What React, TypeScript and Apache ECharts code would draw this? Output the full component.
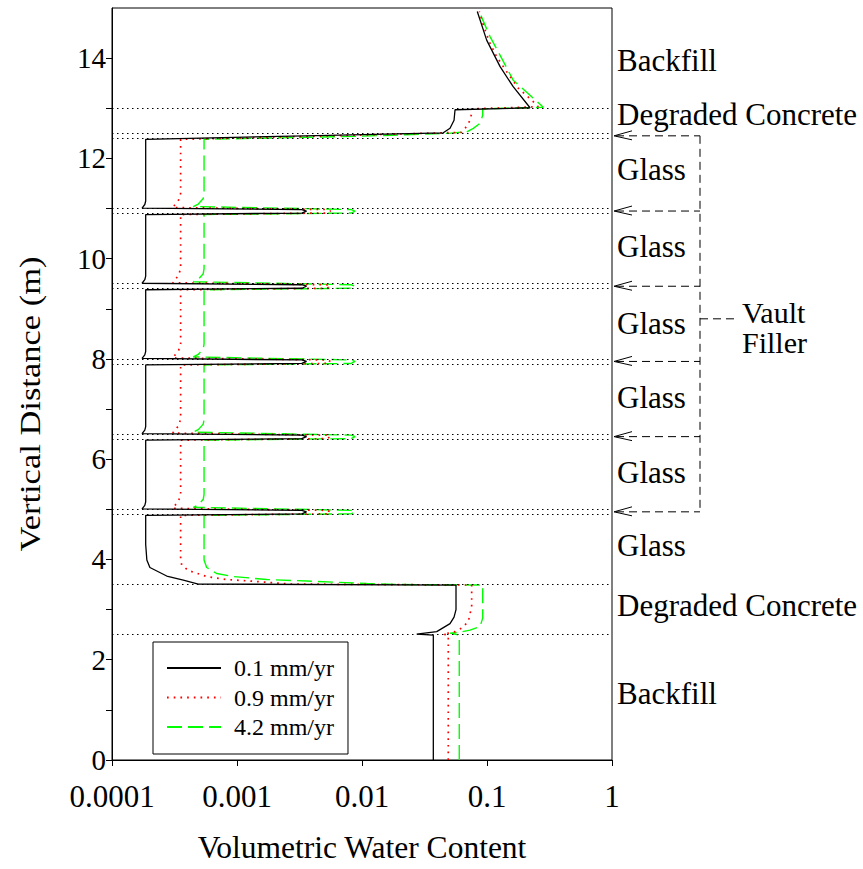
import React, { useEffect, useRef } from "react";
import * as echarts from "echarts";

const FONT = '"Liberation Serif", "Times New Roman", serif';

// x tick labels (log axis, decades 1e-4 .. 1)
const xTickLabels = ["0.0001", "0.001", "0.01", "0.1", "1"];
const yTickValues = [0, 1, 2, 3, 4, 5, 6, 7, 8, 9, 10, 11, 12, 13, 14];
const yLabelValues = [0, 2, 4, 6, 8, 10, 12, 14];

// layer boundaries (m) drawn as dotted lines
const layerBoundaries = [2.5, 3.5, 4.9, 5.0, 6.4, 6.5, 7.9, 8.0, 9.4, 9.5, 10.9, 11.0, 12.4, 12.5, 13.0];
const layerNames = ["Backfill", "Degraded Concrete", "Glass", "Glass", "Glass", "Glass", "Glass", "Glass", "Degraded Concrete", "Backfill"];
const layerLabelDepths = [1.32, 3.08, 4.27, 5.74, 7.24, 8.7, 10.24, 11.77, 12.88, 13.95];
const vaultFillerDepths = [12.45, 10.95, 9.45, 7.95, 6.45, 4.95];
const vaultFillerLabelDepth = 8.8;

const seriesNames = ["0.1 mm/yr", "0.9 mm/yr", "4.2 mm/yr"];

// [water content, vertical distance]
const flux0p1 = [
  [0.0372, 0], [0.0372, 2.49], [0.0274, 2.51], [0.0396, 2.56], [0.0506, 2.72], [0.0545, 2.85], [0.0565, 3.0], [0.0565, 3.49],
  [0.00049, 3.51], [0.000372, 3.59], [0.000274, 3.67], [0.000201, 3.84], [0.00019, 3.99], [0.000186, 4.3], [0.000186, 4.88],
  [0.0033, 4.91], [0.0036, 4.95], [0.0033, 4.98], [0.000174, 5.01], [0.000183, 5.08], [0.000186, 5.15], [0.000186, 6.38],
  [0.0033, 6.41], [0.0036, 6.45], [0.0033, 6.48], [0.000174, 6.51], [0.000183, 6.58], [0.000186, 6.65], [0.000186, 7.88],
  [0.0033, 7.91], [0.0036, 7.95], [0.0033, 7.98], [0.000174, 8.01], [0.000183, 8.08], [0.000186, 8.15], [0.000186, 9.38],
  [0.0033, 9.41], [0.0036, 9.45], [0.0033, 9.48], [0.000174, 9.51], [0.000183, 9.58], [0.000186, 9.65], [0.000186, 10.88],
  [0.0033, 10.91], [0.0036, 10.95], [0.0033, 10.98], [0.000174, 11.01], [0.000183, 11.08], [0.000186, 11.15], [0.000186, 12.38],
  [0.0035, 12.45], [0.0447, 12.51], [0.0506, 12.6], [0.0545, 12.76], [0.0555, 12.97], [0.221, 13.01],
  [0.162, 13.43], [0.1273, 13.83], [0.0994, 14.36], [0.0836, 14.93],
];

const flux0p9 = [
  [0.049, 0], [0.049, 2.49], [0.0447, 2.51], [0.0555, 2.56], [0.0627, 2.63], [0.0709, 2.76], [0.0754, 3.06], [0.0754, 3.49],
  [0.00265, 3.51], [0.00127, 3.57], [0.000827, 3.6], [0.000572, 3.66], [0.000408, 3.78], [0.000361, 3.89], [0.000354, 4.0], [0.000354, 4.88],
  [0.0052, 4.91], [0.0056, 4.95], [0.0052, 4.98], [0.000306, 5.02], [0.000341, 5.17], [0.000354, 5.3], [0.000354, 6.38],
  [0.0052, 6.41], [0.0056, 6.45], [0.0052, 6.48], [0.000306, 6.52], [0.000341, 6.67], [0.000354, 6.8], [0.000354, 7.88],
  [0.0052, 7.91], [0.0056, 7.95], [0.0052, 7.98], [0.000306, 8.02], [0.000341, 8.17], [0.000354, 8.3], [0.000354, 9.38],
  [0.0052, 9.41], [0.0056, 9.45], [0.0052, 9.48], [0.000306, 9.52], [0.000341, 9.67], [0.000354, 9.8], [0.000354, 10.88],
  [0.0052, 10.91], [0.0056, 10.95], [0.0052, 10.98], [0.000306, 11.02], [0.000341, 11.17], [0.000354, 11.3], [0.000354, 12.38],
  [0.0055, 12.45], [0.0627, 12.52], [0.0688, 12.64], [0.0731, 12.76], [0.0754, 12.9], [0.0754, 12.99], [0.257, 13.03],
  [0.228, 13.16], [0.178, 13.4], [0.1437, 13.73], [0.1195, 14.03], [0.1043, 14.33], [0.0934, 14.66], [0.0867, 14.93],
];

const flux4p2 = [
  [0.06, 0], [0.06, 2.49], [0.0506, 2.53], [0.0608, 2.55], [0.0731, 2.59], [0.0879, 2.66], [0.0924, 2.83], [0.0924, 3.49],
  [0.0201, 3.5], [0.0109, 3.52], [0.00361, 3.57], [0.00173, 3.6], [0.000934, 3.66], [0.000688, 3.72], [0.000572, 3.84], [0.000545, 3.99], [0.000545, 4.88],
  [0.0082, 4.91], [0.0088, 4.95], [0.0082, 4.98], [0.000447, 5.04], [0.00049, 5.09], [0.000537, 5.2], [0.000545, 5.3], [0.000545, 6.38],
  [0.0082, 6.41], [0.0088, 6.45], [0.0082, 6.48], [0.000447, 6.54], [0.00049, 6.59], [0.000537, 6.7], [0.000545, 6.8], [0.000545, 7.88],
  [0.0082, 7.91], [0.0088, 7.95], [0.0082, 7.98], [0.000447, 8.04], [0.00049, 8.09], [0.000537, 8.2], [0.000545, 8.3], [0.000545, 9.38],
  [0.0082, 9.41], [0.0088, 9.45], [0.0082, 9.48], [0.000447, 9.54], [0.00049, 9.59], [0.000537, 9.7], [0.000545, 9.8], [0.000545, 10.88],
  [0.0082, 10.91], [0.0088, 10.95], [0.0082, 10.98], [0.000447, 11.04], [0.00049, 11.09], [0.000537, 11.2], [0.000545, 11.3], [0.000545, 12.38],
  [0.0088, 12.44], [0.049, 12.5], [0.0688, 12.53], [0.0777, 12.6], [0.0879, 12.7], [0.0924, 12.86], [0.0924, 12.99], [0.282, 13.02],
  [0.162, 13.56], [0.127, 14.06], [0.1057, 14.43], [0.0865, 14.93],
];

export default function App() {
  const ref = useRef<HTMLDivElement>(null);

  useEffect(() => {
    if (!ref.current) return;
    const chart = echarts.init(ref.current, null, { renderer: "svg" });

    const option: any = {
      animation: false,
      textStyle: { fontFamily: FONT, color: "#000" },
      grid: {
        left: 112, right: 251, top: 8, bottom: 109,
        show: true, borderColor: "#000", borderWidth: 1, backgroundColor: "transparent",
      },
      legend: {
        orient: "vertical",
        left: 153,
        top: 642,
        padding: [14, 14, 15, 13],
        itemGap: 5.5,
        itemWidth: 54,
        itemHeight: 14,
        borderColor: "#000",
        borderWidth: 1,
        borderRadius: 0,
        selectedMode: false,
        itemStyle: { color: "transparent", borderColor: "transparent", borderWidth: 0, opacity: 0 },
        textStyle: { fontFamily: FONT, fontSize: 24, color: "#000", lineHeight: 24, padding: [0, 0, 0, 8] },
        data: seriesNames,
      },
      xAxis: {
        type: "log",
        logBase: 10,
        min: 0.0001,
        max: 1,
        axisLine: { lineStyle: { color: "#000", width: 1 } },
        axisTick: { length: 6, lineStyle: { color: "#000", width: 1 } },
        minorTick: { show: false },
        splitLine: { show: false },
        axisLabel: {
          fontFamily: FONT,
          fontSize: 31,
          color: "#000",
          margin: 21,
          formatter: (v: number) => xTickLabels[Math.round(Math.log10(v)) + 4] ?? "",
        },
        name: "Volumetric Water Content",
        nameLocation: "middle",
        nameGap: 71,
        nameTextStyle: { fontFamily: FONT, fontSize: 31.5, color: "#000" },
      },
      yAxis: {
        type: "value",
        min: 0,
        max: 15,
        interval: 1,
        axisLine: { show: true, lineStyle: { color: "#000", width: 1 } },
        axisTick: { show: true, length: 6, customValues: yTickValues, lineStyle: { color: "#000", width: 1 } },
        axisLabel: { fontFamily: FONT, fontSize: 29, color: "#000", margin: 6, customValues: yLabelValues },
        splitLine: { show: false },
      },
      series: [
        {
          name: seriesNames[0],
          type: "line",
          data: flux0p1,
          symbol: "none",
          showSymbol: false,
          lineStyle: { color: "#000", width: 1.3, type: "solid" },
          itemStyle: { color: "#000" },
          z: 4,
          markLine: {
            silent: true,
            symbol: ["none", "none"],
            label: { show: false },
            lineStyle: { color: "#000", type: [1.5, 3.5], width: 1.2 },
            emphasis: { disabled: true },
            data: layerBoundaries.map((v) => ({ yAxis: v })),
          },
        },
        {
          name: seriesNames[1],
          type: "line",
          data: flux0p9,
          symbol: "none",
          showSymbol: false,
          lineStyle: { color: "#ff0000", width: 1.7, type: [1.7, 5] },
          itemStyle: { color: "#ff0000" },
          z: 3,
        },
        {
          name: seriesNames[2],
          type: "line",
          data: flux4p2,
          symbol: "none",
          showSymbol: false,
          lineStyle: { color: "#00ff00", width: 1.4, type: [15, 6] },
          itemStyle: { color: "#00ff00" },
          z: 2,
        },
      ],
    };

    chart.setOption(option);

    const px = (x: number, y: number) => chart.convertToPixel({ gridIndex: 0 }, [x, y]) as number[];
    const rightX = px(1, 0)[0];
    const topY = px(1, 15)[1];
    const bottomY = px(1, 0)[1];

    const graphics: any[] = [];
    const dash = [8, 5];

    layerNames.forEach((name, i) => {
      graphics.push({
        type: "text",
        x: rightX + 5,
        y: px(1, layerLabelDepths[i])[1],
        style: { text: name, fontFamily: FONT, fontSize: 31, fill: "#000", align: "left", verticalAlign: "middle" },
      });
    });

    const bracketX = rightX + 88;
    vaultFillerDepths.forEach((d) => {
      const y = px(1, d)[1];
      graphics.push({
        type: "line",
        shape: { x1: rightX + 4, y1: y, x2: bracketX, y2: y },
        style: { stroke: "#000", lineWidth: 1, lineDash: dash },
      });
      graphics.push({
        type: "polyline",
        shape: { points: [[rightX + 20, y - 5], [rightX + 2, y], [rightX + 20, y + 4]] },
        style: { stroke: "#000", lineWidth: 1, fill: null },
      });
    });
    const yTop = px(1, vaultFillerDepths[0])[1];
    const yBot = px(1, vaultFillerDepths[vaultFillerDepths.length - 1])[1];
    graphics.push({
      type: "line",
      shape: { x1: bracketX, y1: yTop, x2: bracketX, y2: yBot },
      style: { stroke: "#000", lineWidth: 1, lineDash: dash },
    });
    const yMid = px(1, vaultFillerLabelDepth)[1];
    graphics.push({
      type: "line",
      shape: { x1: bracketX, y1: yMid, x2: bracketX + 37, y2: yMid },
      style: { stroke: "#000", lineWidth: 1, lineDash: dash },
    });
    graphics.push({
      type: "text",
      x: bracketX + 42,
      y: yMid - 6,
      style: { text: "Vault", fontFamily: FONT, fontSize: 30, fill: "#000", align: "left", verticalAlign: "middle" },
    });
    graphics.push({
      type: "text",
      x: bracketX + 42,
      y: yMid + 24,
      style: { text: "Filler", fontFamily: FONT, fontSize: 30, fill: "#000", align: "left", verticalAlign: "middle" },
    });

    // y axis title
    graphics.push({
      type: "text",
      x: 30,
      y: (topY + bottomY) / 2 + 20,
      rotation: Math.PI / 2,
      scaleX: 1.15,
      style: { text: "Vertical Distance (m)", fontFamily: FONT, fontSize: 30, fill: "#000", align: "center", verticalAlign: "middle" },
    });

    chart.setOption({ graphic: graphics });

    return () => chart.dispose();
  }, []);

  return (
    <div
      ref={ref}
      style={{ position: "absolute", left: 0, top: 0, width: 863, height: 869, background: "#fff" }}
    />
  );
}
